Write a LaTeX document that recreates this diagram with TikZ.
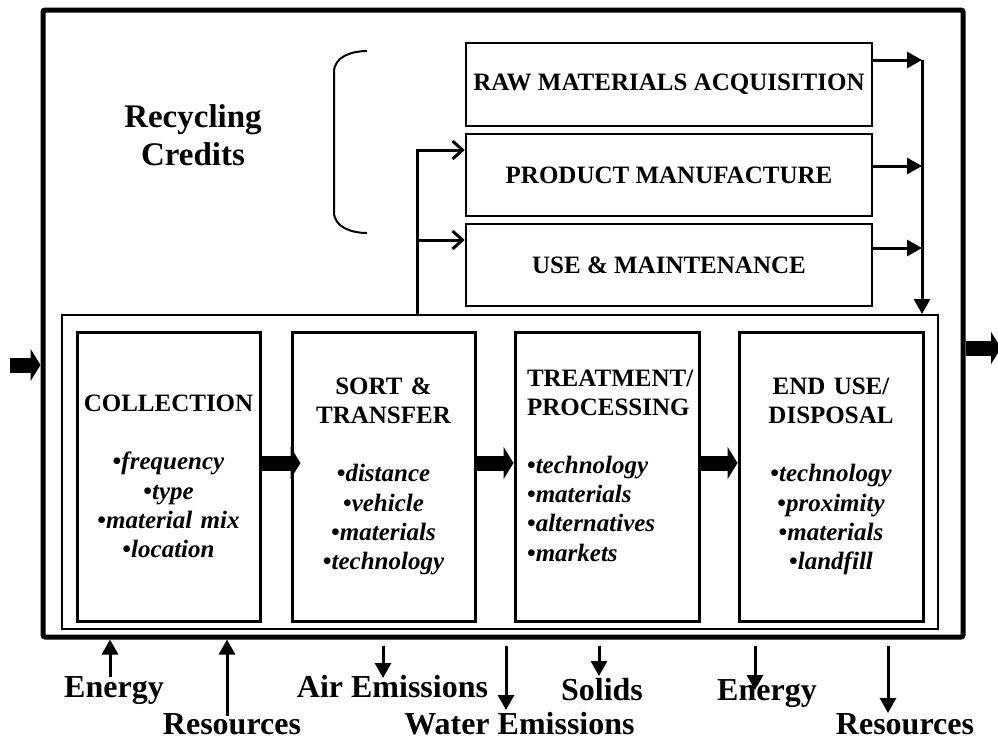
\documentclass[tikz,border=0pt]{standalone}
\usepackage{fontspec}
\setmainfont{Liberation Serif}
\usetikzlibrary{arrows.meta,positioning}

\tikzset{
  stagebox/.style={draw, line width=3pt, minimum width=183pt, minimum height=289pt,
    inner sep=0pt, text width=178pt, align=center,
    font=\fontsize{25}{29.3}\selectfont\bfseries},
  lifebox/.style={draw, line width=2.5pt, minimum width=406pt, minimum height=82pt,
    inner sep=0pt, font=\fontsize{25}{29}\selectfont\bfseries},
  flowarr/.style={line width=3pt, -{Triangle[length=15pt,width=16pt]}},
  feedarr/.style={line width=3pt, -{Straight Barb[length=10pt,width=18pt]}},
  blockarr/.style={line width=15pt, -{Triangle[length=10pt,width=32pt]}},
  outlabel/.style={anchor=base, inner sep=0pt, font=\fontsize{32}{36}\selectfont\bfseries},
}

\begin{document}
\begin{tikzpicture}[x=1pt,y=-1pt]
  \useasboundingbox (0,0) rectangle (998,742);

  % System boundary
  \node[draw, line width=5pt, rounded corners=2pt, inner sep=0pt,
    minimum width=920pt, minimum height=627pt] (outer) at (503,323.5) {};
  \node[draw, line width=2pt, inner sep=0pt,
    minimum width=876pt, minimum height=314pt] (inner) at (500,472) {};

  % Recycling credits
  \node[align=center, font=\fontsize{33}{38}\selectfont\bfseries] (credits) at (193,135)
    {Recycling\\Credits};
  \draw[line width=2pt] (367,51) to[out=180,in=90] (334,72) -- (334,212)
    to[out=-90,in=180] (367,233);

  % Life cycle stages
  \node[lifebox, minimum height=83pt] (raw) at (669,84.5) {RAW MATERIALS ACQUISITION};
  \node[lifebox] (prod) at (669,175) {PRODUCT MANUFACTURE};
  \node[lifebox] (use) at (669,265) {USE \& MAINTENANCE};

  % Waste management stages
  \node[stagebox] (coll) at (168.5,476.5) {COLLECTION\\[28.7pt]
    \textbullet\textit{frequency}\\ \textbullet\textit{type}\\
    \textbullet\textit{material mix}\\ \textbullet\textit{location}};
  \node[stagebox] (sort) at (383.5,476.5) {SORT \&\\ TRANSFER\\[28.7pt]
    \textbullet\textit{distance}\\ \textbullet\textit{vehicle}\\
    \textbullet\textit{materials}\\ \textbullet\textit{technology}};
  \node[stagebox, minimum width=184pt] (treat) at (607,476.5) {};
  \node[stagebox, draw=none, minimum height=0pt, text width=160pt, align=left]
    (treattext) at ([yshift=11pt]treat.center) {TREATMENT/\\ PROCESSING\\[28.7pt]
    \textbullet\textit{technology}\\ \textbullet\textit{materials}\\
    \textbullet\textit{alternatives}\\ \textbullet\textit{markets}};
  \node[stagebox, minimum width=184pt] (endu) at (831,476.5) {END USE/\\ DISPOSAL\\[28.7pt]
    \textbullet\textit{technology}\\ \textbullet\textit{proximity}\\
    \textbullet\textit{materials}\\ \textbullet\textit{landfill}};

  % Flow between stages
  \draw[blockarr] ([yshift=13.5pt]coll.east) -- ([yshift=13.5pt,xshift=10pt]sort.west);
  \draw[blockarr] ([yshift=13.5pt]sort.east) -- ([yshift=13.5pt]treat.west);
  \draw[blockarr] ([yshift=13.5pt]treat.east) -- ([yshift=13.5pt]endu.west);

  % Recycled material back into the life cycle
  \coordinate (feed) at (417,150);
  \coordinate (pin) at ([yshift=25pt]prod.west);
  \coordinate (uin) at ([yshift=25pt]use.west);
  \draw[feedarr] (feed |- inner.north) |- (pin);
  \draw[feedarr] (feed |- uin) -- (uin);

  % Life cycle output to waste management
  \coordinate (merge) at (922,60);
  \coordinate (pout) at ([yshift=9pt]prod.east);
  \coordinate (uout) at ([yshift=17pt]use.east);
  \draw[flowarr] (raw.east |- merge) -- (merge);
  \draw[flowarr] (pout) -- (pout -| merge);
  \draw[flowarr] (uout) -- (uout -| merge);
  \draw[flowarr] (merge) -- (merge |- inner.north);

  % System input and output
  \coordinate (inlet) at (10,365);
  \coordinate (outlet) at (1001,348);
  \draw[blockarr] (inlet) -- (inlet -| outer.west);
  \draw[blockarr] (outer.east |- outlet) -- (outlet);

  % Inputs and emissions
  \node[outlabel] (enin) at (114,697) {Energy};
  \node[outlabel] (resin) at (232,734) {Resources};
  \node[outlabel] (air) at (392.5,697) {Air Emissions};
  \node[outlabel] (water) at (519.5,734) {Water Emissions};
  \node[outlabel] (solids) at (602,700) {Solids};
  \node[outlabel] (enout) at (767,700) {Energy};
  \node[outlabel] (resout) at (905,734) {Resources};

  \coordinate (a1) at (110,677);
  \coordinate (a2) at (227,716);
  \coordinate (a3) at (383,678);
  \coordinate (a4) at (506,710);
  \coordinate (a5) at (599,676);
  \coordinate (a6) at (755,690);
  \coordinate (a7) at (888,713);
  \draw[flowarr] (a1) -- (a1 |- outer.south);
  \draw[flowarr] (a2) -- (a2 |- outer.south);
  \foreach \p in {a3,a4,a5,a6,a7} {
    \draw[flowarr] ([yshift=-6pt]\p |- outer.south) -- (\p);
  }
\end{tikzpicture}
\end{document}
